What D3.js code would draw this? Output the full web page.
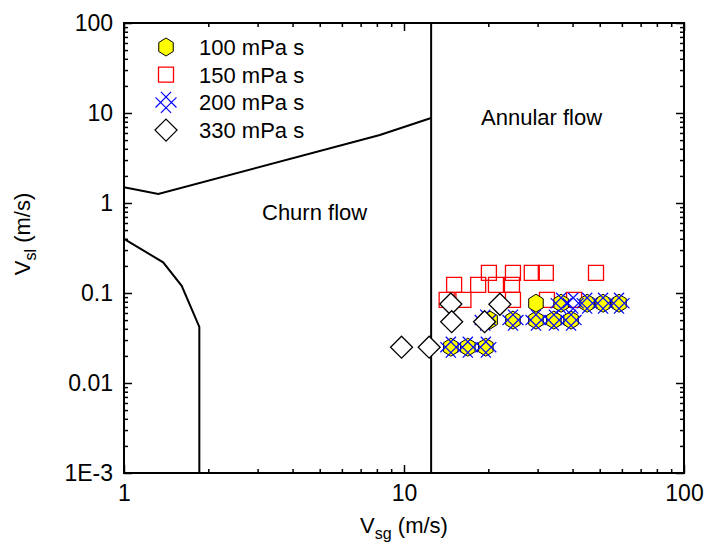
<!DOCTYPE html>
<html>
<head>
<meta charset="utf-8">
<script src="https://cdn.jsdelivr.net/npm/d3@7"></script>
<style>
  body { margin: 0; background: #fff; }
  text { font-family: "Liberation Sans", Arial, sans-serif; fill: #000; }
</style>
</head>
<body>
<svg id="chart" width="706" height="552"></svg>
<script>
// tick values and labels
var xTicks = [1, 10, 100];
var xTickLabels = ['1', '10', '100'];
var yTicks = [0.001, 0.01, 0.1, 1, 10, 100];
var yTickLabels = ['1E-3', '0.01', '0.1', '1', '10', '100'];

// flow pattern boundaries
var upperX = [1, 1.326, 8.2, 12.5];
var upperY = [1.5, 1.26, 5.7, 8.8];
var lowerX = [1, 1.38, 1.607, 1.858, 1.858];
var lowerY = [0.4, 0.219, 0.12, 0.042, 0.001];
var annularX = 12.5;

// 100 mPa s
var hexX = [14.7, 16.9, 19.6, 20.3, 24.5, 29.6, 34.3, 39.5, 29.6, 36.4, 45.1, 51.4, 58.6];
var hexY = [0.025, 0.025, 0.025, 0.05, 0.05, 0.05, 0.05, 0.05, 0.077, 0.077, 0.077, 0.077, 0.077];
// 150 mPa s
var sqX = [20.1, 24.5, 28.6, 32.1, 48.5, 15.1, 18.4, 21.3, 24.3, 14.2, 16.3, 24.5, 32.4, 40.5];
var sqY = [0.167, 0.167, 0.167, 0.167, 0.167, 0.123, 0.123, 0.123, 0.123, 0.084, 0.084, 0.084, 0.084, 0.084];
// 200 mPa s
var crossX = [14.7, 16.9, 19.6, 19.5, 24.5, 29.6, 34.3, 39.5, 36.4, 40.2, 45.1, 51.4, 58.6];
var crossY = [0.025, 0.025, 0.025, 0.05, 0.05, 0.05, 0.05, 0.05, 0.077, 0.077, 0.077, 0.077, 0.077];
// 330 mPa s
var diaX = [9.8, 12.3, 14.7, 14.8, 19.4, 22.0];
var diaY = [0.025, 0.025, 0.0755, 0.048, 0.048, 0.075];

var legendLabels = ['100 mPa s', '150 mPa s', '200 mPa s', '330 mPa s'];

var svg = d3.select('#chart');
var x = d3.scaleLog().domain([1, 100]).range([124, 684]);
var y = d3.scaleLog().domain([0.001, 100]).range([473, 23]);

function minorTicks(lo, hi) {
  var out = [];
  for (var p = lo; p < hi; p *= 10) {
    for (var k = 2; k <= 9; k++) out.push(p * k);
  }
  return out;
}
var xMinor = minorTicks(1, 100);
var yMinor = minorTicks(0.001, 100);

// marker paths, centred on 0,0
function hexPath(r) {
  var pts = d3.range(6).map(function (i) {
    var a = Math.PI / 2 + i * Math.PI / 3;
    return [r * 0.93 * Math.cos(a), -r * Math.sin(a)];
  });
  return 'M' + pts.join('L') + 'Z';
}
function squarePath(h) {
  return 'M' + [-h, -h] + 'L' + [h, -h] + 'L' + [h, h] + 'L' + [-h, h] + 'Z';
}
function diamondPath(h) {
  return 'M0,' + (-h) + 'L' + h + ',0L0,' + h + 'L' + (-h) + ',0Z';
}
function latticePath(a, b) {
  // rotated "#" : two lines each way, turned 45 degrees
  var s = Math.SQRT1_2;
  function p(u, v) { return [((u - v) * s).toFixed(2), ((u + v) * s).toFixed(2)]; }
  return 'M' + p(a, -b) + 'L' + p(a, b) +
    'M' + p(-a, -b) + 'L' + p(-a, b) +
    'M' + p(-b, a) + 'L' + p(b, a) +
    'M' + p(-b, -a) + 'L' + p(b, -a);
}

var markers = [
  { d: hexPath(9), fill: '#ffff00', stroke: '#000', sw: 1 },
  { d: squarePath(7.5), fill: 'none', stroke: '#ff0000', sw: 1.3 },
  { d: latticePath(3.8, 11), fill: 'none', stroke: '#0000ff', sw: 1.2 },
  { d: diamondPath(11), fill: '#fff', stroke: '#000', sw: 1.3 }
];

// axes: ticks point inward on all four sides
function styleAxis(g) {
  g.select('.domain').remove();
  g.selectAll('line').attr('stroke', '#000').attr('stroke-width', 1.5);
  g.selectAll('text').style('font-size', '23px').attr('fill', '#000');
}
svg.append('g').attr('transform', 'translate(0,473)')
  .call(d3.axisBottom(x).tickValues(xTicks).tickFormat(function (d, i) { return xTickLabels[i]; })
    .tickSizeInner(-8).tickSizeOuter(0).tickPadding(12))
  .call(styleAxis);
svg.append('g').attr('transform', 'translate(0,473)')
  .call(d3.axisBottom(x).tickValues(xMinor).tickFormat('').tickSizeInner(-4).tickSizeOuter(0))
  .call(styleAxis);
svg.append('g').attr('transform', 'translate(0,23)')
  .call(d3.axisTop(x).tickValues(xTicks).tickFormat('').tickSizeInner(-8).tickSizeOuter(0))
  .call(styleAxis);
svg.append('g').attr('transform', 'translate(0,23)')
  .call(d3.axisTop(x).tickValues(xMinor).tickFormat('').tickSizeInner(-4).tickSizeOuter(0))
  .call(styleAxis);
svg.append('g').attr('transform', 'translate(124,0)')
  .call(d3.axisLeft(y).tickValues(yTicks).tickFormat(function (d, i) { return yTickLabels[i]; })
    .tickSizeInner(-8).tickSizeOuter(0).tickPadding(11))
  .call(styleAxis);
svg.append('g').attr('transform', 'translate(124,0)')
  .call(d3.axisLeft(y).tickValues(yMinor).tickFormat('').tickSizeInner(-4).tickSizeOuter(0))
  .call(styleAxis);
svg.append('g').attr('transform', 'translate(684,0)')
  .call(d3.axisRight(y).tickValues(yTicks).tickFormat('').tickSizeInner(-8).tickSizeOuter(0))
  .call(styleAxis);
svg.append('g').attr('transform', 'translate(684,0)')
  .call(d3.axisRight(y).tickValues(yMinor).tickFormat('').tickSizeInner(-4).tickSizeOuter(0))
  .call(styleAxis);

// frame
svg.append('rect')
  .attr('x', x(1)).attr('y', y(100))
  .attr('width', x(100) - x(1)).attr('height', y(0.001) - y(100))
  .attr('fill', 'none').attr('stroke', '#000').attr('stroke-width', 2);

// boundaries
var line = d3.line().x(function (d) { return x(d[0]); }).y(function (d) { return y(d[1]); });
svg.append('path').datum(d3.zip(upperX, upperY)).attr('d', line)
  .attr('fill', 'none').attr('stroke', '#000').attr('stroke-width', 2);
svg.append('path').datum(d3.zip(lowerX, lowerY)).attr('d', line)
  .attr('fill', 'none').attr('stroke', '#000').attr('stroke-width', 2);
svg.append('line')
  .attr('x1', x(annularX)).attr('x2', x(annularX))
  .attr('y1', y(100)).attr('y2', y(0.001))
  .attr('stroke', '#000').attr('stroke-width', 2);

svg.append('text').attr('x', 262).attr('y', 220).style('font-size', '22px').text('Churn flow');
svg.append('text').attr('x', 481).attr('y', 125).style('font-size', '22px').text('Annular flow');

// data points
function drawSeries(xs, ys, m) {
  svg.append('g').selectAll('path')
    .data(d3.zip(xs, ys))
    .join('path')
    .attr('transform', function (d) { return 'translate(' + x(d[0]) + ',' + y(d[1]) + ')'; })
    .attr('d', m.d)
    .attr('fill', m.fill)
    .attr('stroke', m.stroke)
    .attr('stroke-width', m.sw);
}
drawSeries(sqX, sqY, markers[1]);
drawSeries(hexX, hexY, markers[0]);
drawSeries(crossX, crossY, markers[2]);
drawSeries(diaX, diaY, markers[3]);

// legend
var legend = svg.append('g').selectAll('g')
  .data(legendLabels)
  .join('g')
  .attr('transform', function (d, i) { return 'translate(166,' + (47 + i * 27.7) + ')'; });
legend.append('path')
  .attr('d', function (d, i) { return markers[i].d; })
  .attr('fill', function (d, i) { return markers[i].fill; })
  .attr('stroke', function (d, i) { return markers[i].stroke; })
  .attr('stroke-width', function (d, i) { return markers[i].sw; });
legend.append('text')
  .attr('x', 33).attr('y', 8)
  .style('font-size', '22px')
  .text(function (d) { return d; });

// axis titles
var xt = svg.append('text').attr('x', 404).attr('y', 533)
  .attr('text-anchor', 'middle').style('font-size', '22px');
xt.append('tspan').text('V');
xt.append('tspan').attr('dy', 6).style('font-size', '16px').text('sg');
xt.append('tspan').attr('dy', -6).text(' (m/s)');

var yt = svg.append('text')
  .attr('transform', 'translate(30,234) rotate(-90)')
  .attr('text-anchor', 'middle').style('font-size', '22px');
yt.append('tspan').text('V');
yt.append('tspan').attr('dy', 6).style('font-size', '16px').text('sl');
yt.append('tspan').attr('dy', -6).text(' (m/s)');
</script>
</body>
</html>
